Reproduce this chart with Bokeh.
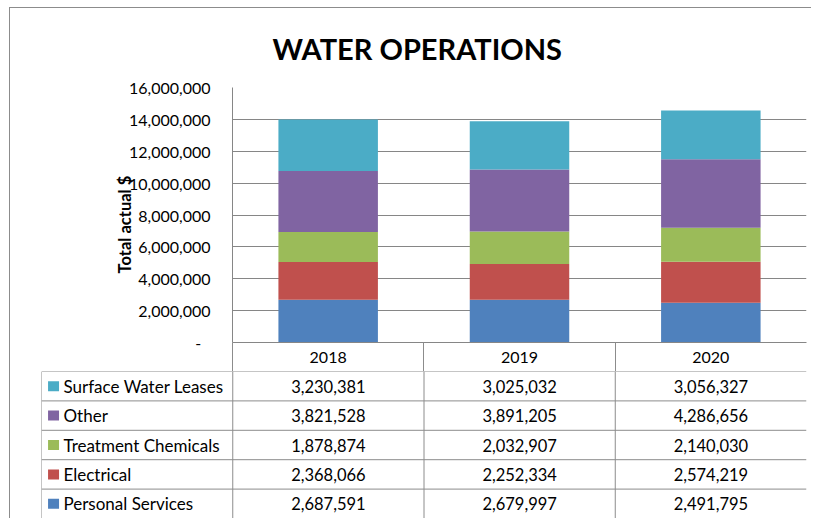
from bokeh.plotting import figure
from bokeh.models import (ColumnDataSource, FactorRange, Range1d, FixedTicker, LinearAxis,
                          CustomJSTickFormatter)
from bokeh.transform import dodge
from bokeh.core.properties import value
from bokeh.embed import file_html
from bokeh.resources import INLINE

# ---------------- data ----------------
title_text = "WATER OPERATIONS"
y_label = "Total actual $"
years = ["2018", "2019", "2020"]
series = ["Personal Services", "Electrical", "Treatment Chemicals", "Other", "Surface Water Leases"]
personal_services = [2687591, 2679997, 2491795]
electrical = [2368066, 2252334, 2574219]
treatment_chemicals = [1878874, 2032907, 2140030]
other = [3821528, 3891205, 4286656]
surface_water_leases = [3230381, 3025032, 3056327]
colors = ["#4F81BD", "#C0504D", "#9BBB59", "#8064A2", "#4BACC6"]
yticks = [0, 2000000, 4000000, 6000000, 8000000, 10000000, 12000000, 14000000, 16000000]

values = [personal_services, electrical, treatment_chemicals, other, surface_water_leases]
keys = ["s%d" % i for i in range(len(series))]

FONT = "Lato"
GRID = "#868686"
LINE = "#8c8c8c"

# ---------------- chart ----------------
data = {"year": years}
for k, v in zip(keys, values):
    data[k] = v
src = ColumnDataSource(data)

p = figure(x_range=FactorRange(*years, range_padding=0), y_range=Range1d(0, yticks[-1]),
           width=802, height=364, output_backend="svg", toolbar_location=None,
           x_axis_location=None,
           min_border_left=222, min_border_right=6, min_border_top=79, min_border_bottom=30,
           styles={"border-top": "1px solid #8c8c8c", "border-left": "1px solid #8c8c8c",
                   "margin-left": "9px", "margin-top": "7px"})
p.outline_line_color = None
p.background_fill_color = "white"
p.border_fill_color = "white"

p.vbar_stack(keys, x="year", width=0.52, fill_color=colors, line_color=None, source=src)

p.title.text = title_text
p.title.align = "left"
p.title.offset = 40
p.title.vertical_align = "top"
p.title.text_line_height = 1.0
p.title.text_font = FONT
p.title.text_font_size = "29px"
p.title.text_font_style = "bold"
p.title.text_color = "black"
p.title.standoff = 40

yax = p.yaxis[0]
yax.ticker = FixedTicker(ticks=yticks)
yax.formatter = CustomJSTickFormatter(
    code="return tick == 0 ? '-\u2007' : tick.toLocaleString('en-US');")
yax.axis_line_color = GRID
yax.major_tick_line_color = None
yax.minor_tick_line_color = None
yax.major_tick_out = 0
yax.major_tick_in = 0
yax.major_label_standoff = 22
yax.major_label_text_font = FONT
yax.major_label_text_font_size = "16px"
yax.major_label_text_color = "black"
# trailing figure spaces nudge the visible title down, as in the original
yax.axis_label = y_label + "\u2007\u2007"
yax.axis_label_text_font = FONT
yax.axis_label_text_font_size = "16.5px"
yax.axis_label_text_font_style = "bold"
yax.axis_label_text_color = "black"
yax.axis_label_standoff = -9

p.xgrid.visible = False
p.ygrid.ticker = FixedTicker(ticks=yticks)
p.ygrid.grid_line_color = GRID
p.ygrid.grid_line_width = 1

# header row of the data table: year labels at column centres, column borders as minor ticks
xax = LinearAxis(
    ticker=FixedTicker(ticks=[i + 0.5 for i in range(len(years))],
                       minor_ticks=list(range(len(years)))),
    formatter=CustomJSTickFormatter(args=dict(labels=years),
                                    code="return labels[Math.floor(tick)];"),
    axis_line_color=GRID, major_tick_line_color=None, major_tick_out=0, major_tick_in=0,
    minor_tick_line_color=LINE, minor_tick_out=30, minor_tick_in=0,
    major_label_standoff=-21, major_label_text_font=FONT,
    major_label_text_font_size="16px", major_label_text_color="black")
p.add_layout(xax, "below")

# ---------------- data table ----------------
cols = ["legend"] + years
q = figure(x_range=FactorRange(*cols, range_padding=0),
           y_range=FactorRange(*series, range_padding=0),
           width=802, height=147, output_backend="svg", toolbar_location=None,
           x_axis_location=None, y_axis_location=None,
           min_border_left=31, min_border_right=6, min_border_top=0, min_border_bottom=0,
           styles={"border-left": "1px solid #8c8c8c", "margin-left": "9px"})
q.grid.visible = False
q.outline_line_color = None
q.background_fill_color = "white"
q.border_fill_color = "white"

# horizontal row borders (top of each row, plus bottom of lowest row)
h_src = ColumnDataSource(dict(x0=[cols[0]] * len(series), x1=[cols[-1]] * len(series), y=series))
q.segment(x0=dodge("x0", -0.5, range=q.x_range), x1=dodge("x1", 0.5, range=q.x_range),
          y0=dodge("y", 0.5, range=q.y_range), y1=dodge("y", 0.5, range=q.y_range),
          line_color=LINE, line_width=1, source=h_src)
hb_src = ColumnDataSource(dict(x0=[cols[0]], x1=[cols[-1]], y=[series[0]]))
q.segment(x0=dodge("x0", -0.5, range=q.x_range), x1=dodge("x1", 0.5, range=q.x_range),
          y0=dodge("y", -0.5, range=q.y_range), y1=dodge("y", -0.5, range=q.y_range),
          line_color=LINE, line_width=1, source=hb_src)
# vertical column borders
v_src = ColumnDataSource(dict(x=cols, yb=[series[0]] * len(cols), yt=[series[-1]] * len(cols)))
q.segment(x0=dodge("x", -0.5, range=q.x_range), x1=dodge("x", -0.5, range=q.x_range),
          y0=dodge("yb", -0.5, range=q.y_range), y1=dodge("yt", 0.5, range=q.y_range),
          line_color=LINE, line_width=1, source=v_src)

# cell values
cx, cy, ct = [], [], []
for s, vals in zip(series, values):
    for yr, v in zip(years, vals):
        cx.append(yr)
        cy.append(s)
        ct.append("{:,}".format(v))
cell_src = ColumnDataSource(dict(x=cx, y=cy, t=ct))
q.text(x="x", y="y", text="t", source=cell_src, text_align="center", text_baseline="middle",
       text_font=value(FONT), text_font_size="16.5px", text_color="black")

# legend keys and names
leg_src = ColumnDataSource(dict(x=[cols[0]] * len(series), y=series, name=series, c=colors))
q.rect(x=dodge("x", -0.437, range=q.x_range), y="y", width=11, height=10,
       width_units="screen", height_units="screen", fill_color="c", line_color=None,
       source=leg_src)
q.text(x=dodge("x", -0.385, range=q.x_range), y="y", text="name", source=leg_src,
       text_align="left", text_baseline="middle",
       text_font=value(FONT), text_font_size="17px", text_color="black")

open("out.html", "w").write(file_html([p, q], INLINE))
